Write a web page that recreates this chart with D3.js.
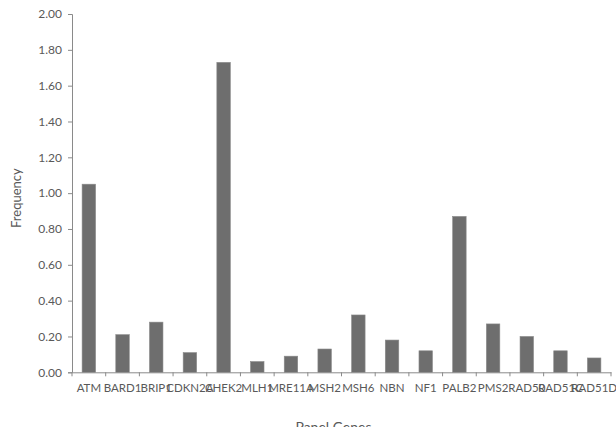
<!DOCTYPE html>
<html>
<head>
<meta charset="utf-8">
<script src="https://cdn.jsdelivr.net/npm/d3@7"></script>
<style>
  html, body { margin: 0; padding: 0; background: #ffffff; }
  svg { display: block; }
</style>
</head>
<body>
<script>
const genes = ["ATM","BARD1","BRIP1","CDKN2A","CHEK2","MLH1","MRE11A","MSH2","MSH6","NBN","NF1","PALB2","PMS2","RAD50","RAD51C","RAD51D"];
const frequency = [1.05,0.21,0.28,0.11,1.73,0.06,0.09,0.13,0.32,0.18,0.12,0.87,0.27,0.20,0.12,0.08];
const yTicks = [0,0.2,0.4,0.6,0.8,1.0,1.2,1.4,1.6,1.8,2.0];
const xTitle = "Panel Genes";
const yTitle = "Frequency";

const W = 616, H = 427;
const mLeft = 72, mRight = 611, mTop = 14, mBottom = 372.3;
const svg = d3.select("body").append("svg").attr("width", W).attr("height", H);

const x = d3.scaleBand().domain(genes).range([mLeft, mRight]).paddingInner(0.6).paddingOuter(0.3);
const xb = d3.scaleBand().domain(genes).range([mLeft, mRight]);
const y = d3.scaleLinear().domain([0, 2]).range([mBottom, mTop]);

const font = "Lato, 'Open Sans', sans-serif";
const textCol = "#595959";
const axisCol = "#8a8a8a";

// y axis
const ya = svg.append("g").attr("transform", `translate(${mLeft},0)`)
  .call(d3.axisLeft(y).tickValues(yTicks).tickFormat(d3.format(".2f")).tickSize(4).tickPadding(6));
ya.select(".domain").attr("stroke", axisCol);
ya.selectAll(".tick line").attr("stroke", axisCol);
ya.selectAll("text").attr("fill", textCol).style("font-family", font).style("font-size", "12px");

// bars
svg.append("g").selectAll("rect").data(genes).join("rect")
  .attr("x", d => x(d))
  .attr("width", x.bandwidth())
  .attr("y", (d, i) => y(frequency[i]))
  .attr("height", (d, i) => y(0) - y(frequency[i]))
  .attr("fill", "#6e6e6e")
  .attr("stroke", "#8a8a8a")
  .attr("stroke-width", 0.6);

// x axis
const xa = svg.append("g").attr("transform", `translate(0,${mBottom})`)
  .call(d3.axisBottom(xb).tickSize(0).tickPadding(12));
xa.select(".domain").attr("stroke", axisCol);
xa.selectAll("text").attr("fill", textCol).style("font-family", font).style("font-size", "11.5px");
// boundary ticks
const bounds = genes.map(g => xb(g)).concat([mRight]);
svg.append("g").selectAll("line").data(bounds).join("line")
  .attr("x1", d => d).attr("x2", d => d)
  .attr("y1", mBottom).attr("y2", mBottom + 4)
  .attr("stroke", axisCol);

// titles
svg.append("text")
  .attr("transform", `translate(21,${(mTop + mBottom) / 2 + 5}) rotate(-90)`)
  .attr("text-anchor", "middle")
  .attr("fill", textCol)
  .style("font-family", font).style("font-size", "13px")
  .text(yTitle);

svg.append("text")
  .attr("x", (mLeft + mRight) / 2 - 8)
  .attr("y", 432)
  .attr("text-anchor", "middle")
  .attr("fill", textCol)
  .style("font-family", font).style("font-size", "14px")
  .text(xTitle);
</script>
</body>
</html>
